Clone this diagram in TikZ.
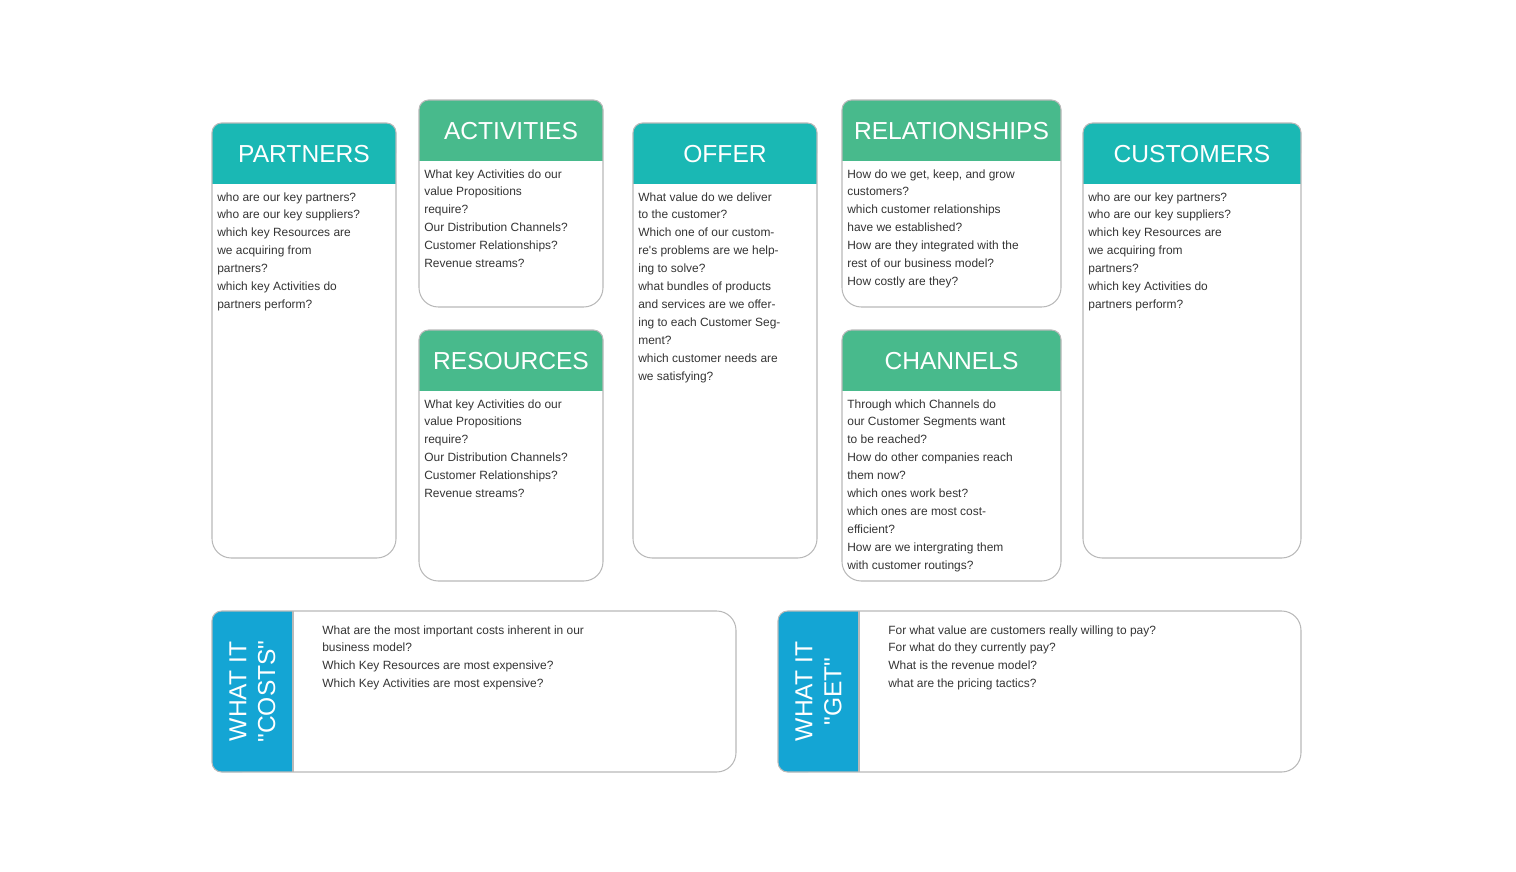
\documentclass[tikz,border=0pt]{standalone}
\usepackage{fontspec}
\setmainfont{Liberation Sans}
\usetikzlibrary{positioning}
\definecolor{BmTeal}{RGB}{26,184,180}
\definecolor{BmGreen}{RGB}{72,186,140}
\definecolor{BmBlue}{RGB}{20,165,212}
\definecolor{BmLine}{RGB}{185,185,185}
\definecolor{BmText}{RGB}{51,51,51}
\tikzset{
  cardline/.style={draw=BmLine,line width=0.6pt},
  cardtitle/.style={text=white,font=\fontsize{14}{16}\selectfont,inner sep=0pt},
  cardtext/.style={text=BmText,font=\fontsize{6.8}{10.2}\selectfont,align=left,inner sep=0pt,anchor=north west},
}
\tikzset{sidetitle/.style={text=white,font=\fontsize{14}{16.4}\selectfont,align=center,rotate=90,inner sep=0pt}}
% card: name, x1, y1, x2, y2, colour, title, text
\newcommand{\bmcard}[8]{%
  \fill[#6,rounded corners=5.5pt] (#2,#3) rectangle (#4,#3+40);
  \fill[#6] (#2,#3+20) rectangle (#4,#3+61);
  \draw[cardline] (#2,#3+40) [rounded corners=5.5pt] -- (#2,#3) -- (#4,#3) -- (#4,#3+40) [rounded corners=11pt] -- (#4,#5) -- (#2,#5) -- cycle;
  \node[cardtitle] (#1) at ({(#2+#4)/2},#3+31) {#7};
  \node[cardtext] (#1-text) at (#2+5,#3+69) {#8};
}
% strip: name, x1, y1, x2, y2, panel edge, title, text
\newcommand{\bmstrip}[8]{%
  \fill[BmBlue,rounded corners=5.5pt] (#2,#3) rectangle (#2+40,#5);
  \fill[BmBlue] (#2+20,#3) rectangle (#6,#5);
  \draw[cardline] ({(#2+#4)/2},#3) [rounded corners=11pt] -- (#4,#3) -- (#4,#5) -- ({(#2+#4)/2},#5) [rounded corners=5.5pt] -- (#2,#5) -- (#2,#3) -- cycle;
  \draw[cardline] (#6,#3) -- (#6,#5);
  \node[sidetitle] (#1) at ({(#2+#6)/2},{(#3+#5)/2}) {#7};
  \node[cardtext] (#1-text) at (#6+29,#3+14) {#8};
}

\begin{document}
\begin{tikzpicture}[x=0.02cm,y=-0.02cm]
\useasboundingbox (0,0) rectangle (1516,872);
% top row
\bmcard{partners}{212}{123}{396}{558}{BmTeal}{PARTNERS}{who are our key partners?\\who are our key suppliers?\\which key Resources are\\we acquiring from\\partners?\\which key Activities do\\partners perform?}
\bmcard{activities}{419}{100}{603}{307}{BmGreen}{ACTIVITIES}{What key Activities do our\\value Propositions\\require?\\Our Distribution Channels?\\Customer Relationships?\\Revenue streams?}
\bmcard{resources}{419}{330}{603}{581}{BmGreen}{RESOURCES}{What key Activities do our\\value Propositions\\require?\\Our Distribution Channels?\\Customer Relationships?\\Revenue streams?}
\bmcard{offer}{633}{123}{817}{558}{BmTeal}{OFFER}{What value do we deliver\\to the customer?\\Which one of our custom-\\re\textquotesingle s problems are we help-\\ing to solve?\\what bundles of products\\and services are we offer-\\ing to each Customer Seg-\\ment?\\which customer needs are\\we satisfying?}
\bmcard{relationships}{842}{100}{1061}{307}{BmGreen}{RELATIONSHIPS}{How do we get, keep, and grow\\customers?\\which customer relationships\\have we established?\\How are they integrated with the\\rest of our business model?\\How costly are they?}
\bmcard{channels}{842}{330}{1061}{581}{BmGreen}{CHANNELS}{Through which Channels do\\our Customer Segments want\\to be reached?\\How do other companies reach\\them now?\\which ones work best?\\which ones are most cost-\\efficient?\\How are we intergrating them\\with customer routings?}
\bmcard{customers}{1083}{123}{1301}{558}{BmTeal}{CUSTOMERS}{who are our key partners?\\who are our key suppliers?\\which key Resources are\\we acquiring from\\partners?\\which key Activities do\\partners perform?}
% bottom row
\bmstrip{costs}{212}{611}{736}{772}{293}{WHAT IT\\\textquotedbl COSTS\textquotedbl}{What are the most important costs inherent in our\\business model?\\Which Key Resources are most expensive?\\Which Key Activities are most expensive?}
\bmstrip{get}{778}{611}{1301}{772}{859}{WHAT IT\\\textquotedbl GET\textquotedbl}{For what value are customers really willing to pay?\\For what do they currently pay?\\What is the revenue model?\\what are the pricing tactics?}
\end{tikzpicture}
\end{document}
